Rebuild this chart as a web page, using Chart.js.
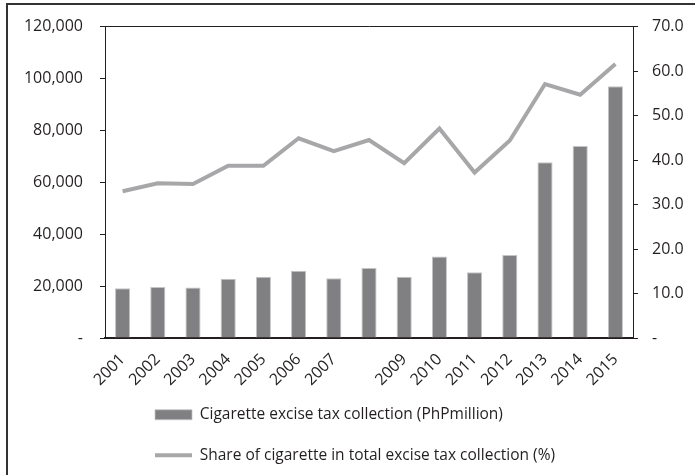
<!DOCTYPE html>
<html>
<head>
<meta charset="utf-8">
<script src="https://cdn.jsdelivr.net/npm/chart.js@4.4.1/dist/chart.umd.min.js"></script>
<style>
    body { margin: 0; background: #fff; }
    #wrap { position: relative; width: 695px; height: 475px; overflow: hidden; }
    #frame { position: absolute; left: 6px; top: 3px; right: -5px; bottom: -5px; border-left: 2px solid #333; border-top: 2px solid #333; }
    #myChart { position: absolute; left: 0; top: 0; }
</style>
</head>
<body>
<div id="wrap">
    <div id="frame"></div>
    <canvas id="myChart" width="695" height="475"></canvas>
</div>
<script>
// datos
const years = ['2001', '2002', '2003', '2004', '2005', '2006', '2007', '', '2009', '2010', '2011', '2012', '2013', '2014', '2015']; // 2008 sin etiqueta en el original
const taxCollection = [19200, 19700, 19500, 22800, 23600, 25900, 23000, 27000, 23600, 31400, 25300, 32000, 67700, 74000, 97000];
const cigaretteShare = [33.0, 34.8, 34.6, 38.7, 38.7, 44.9, 42.0, 44.5, 39.3, 47.1, 37.2, 44.4, 57.1, 54.7, 61.6];
const leftTicks = [0, 20000, 40000, 60000, 80000, 100000, 120000];
const rightTicks = [0, 10, 20, 30, 40, 50, 60, 70];

const FONT = 'Open Sans';
const TEXT = '#231f20';

// la leyenda va fuera del layout y se coloca debajo del grafico
const legendPlace = {
    id: 'legendPlace',
    afterLayout(chart) {
        const lg = chart.legend;
        lg.left = 130;
        lg.top = 382;
        lg.right = 695;
        lg.bottom = 700;
        lg.width = lg.right - lg.left;
        lg.height = lg.bottom - lg.top;
    }
};

const chart = document.getElementById('myChart');

new Chart(chart, {
    type: 'bar',
    data: {
        labels: years,
        datasets: [{
            type: 'line',
            label: 'Share of cigarette in total excise tax collection (%)',
            data: cigaretteShare,
            yAxisID: 'y1',
            borderColor: '#a7a7a9',
            backgroundColor: '#a7a7a9',
            borderWidth: 4,
            pointRadius: 0,
            tension: 0,
            order: 0
        }, {
            label: 'Cigarette excise tax collection (PhPmillion)',
            data: taxCollection,
            yAxisID: 'y',
            backgroundColor: '#808083',
            borderColor: '#c4c4c6',
            borderWidth: { left: 1, right: 1, top: 1, bottom: 0 },
            borderSkipped: 'bottom',
            barPercentage: 0.43,
            categoryPercentage: 1,
            order: 1
        }]
    },
    options: {
        responsive: false,
        animation: false,
        layout: { padding: { left: 8, right: 0, top: 26, bottom: 0 } },
        plugins: {
            tooltip: { enabled: false },
            legend: {
                position: 'chartArea',
                align: 'start',
                reverse: true,
                labels: {
                    color: TEXT,
                    font: { family: FONT, size: 15.5 },
                    padding: 25,
                    boxHeight: 10,
                    usePointStyle: true,
                    pointStyleWidth: 37,
                    generateLabels(c) {
                        const items = Chart.defaults.plugins.legend.labels.generateLabels(c);
                        items.forEach(it => {
                            it.pointStyle = it.datasetIndex === 0 ? 'line' : 'rect';
                        });
                        return items;
                    }
                }
            }
        },
        scales: {
            x: {
                position: 'bottom',
                grid: { display: false },
                border: { display: true, color: '#231f20', width: 2 },
                ticks: {
                    color: TEXT,
                    font: { family: FONT, size: 16 },
                    minRotation: 45,
                    maxRotation: 45,
                    autoSkip: false,
                    padding: 4
                },
                afterFit(scale) { scale.height = 137; }
            },
            xTop: {
                position: 'top',
                grid: { display: false },
                border: { display: true, color: '#231f20', width: 1 },
                ticks: { display: false },
                afterFit(scale) { scale.height = 0; }
            },
            y: {
                position: 'left',
                min: 0,
                max: 120000,
                afterBuildTicks(scale) { scale.ticks = leftTicks.map(v => ({ value: v })); },
                grid: { display: true, drawOnChartArea: false, drawTicks: true, tickLength: 5, color: '#231f20' },
                border: { display: true, color: '#231f20', width: 1 },
                ticks: {
                    color: TEXT,
                    font: { family: FONT, size: 16 },
                    padding: 17,
                    callback: v => v === 0 ? '-' : v.toLocaleString('en-US')
                },
                afterFit(scale) { scale.width = 97; }
            },
            y1: {
                position: 'right',
                min: 0,
                max: 70,
                afterBuildTicks(scale) { scale.ticks = rightTicks.map(v => ({ value: v })); },
                grid: { display: true, drawOnChartArea: false, drawTicks: true, tickLength: 5, color: '#231f20' },
                border: { display: true, color: '#231f20', width: 1 },
                ticks: {
                    color: TEXT,
                    font: { family: FONT, size: 16 },
                    padding: 14,
                    callback: v => v === 0 ? '-' : v.toFixed(1)
                },
                afterFit(scale) { scale.width = 62; }
            }
        }
    },
    plugins: [legendPlace]
});
</script>
</body>
</html>
